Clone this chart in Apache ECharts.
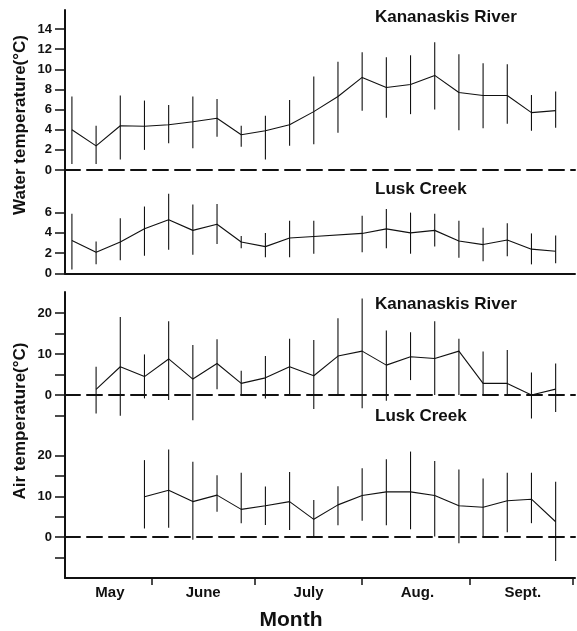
<!DOCTYPE html>
<html>
<head>
<meta charset="utf-8">
<script src="https://cdn.jsdelivr.net/npm/echarts@6/dist/echarts.min.js"></script>
<style>
html,body{margin:0;padding:0;background:#fff;}
#c{width:577px;height:631px;}
</style>
</head>
<body>
<div id="c"></div>
<script>
// Sample dates (days after 1 May), weekly
const days = [8,15,22,29,36,43,50,57,64,71,78,85,92,99,106,113,120,127,134,141,148];

// Water temperature, Kananaskis River
const waterKMean = [4.0,2.4,4.4,4.35,4.5,4.8,5.15,3.5,3.9,4.5,5.8,7.3,9.2,8.2,8.5,9.4,7.7,7.4,7.4,5.7,5.9];
const waterKHigh = [7.3,4.4,7.4,6.9,6.45,7.3,7.05,4.4,5.4,6.95,9.3,10.75,11.7,11.2,11.4,12.7,11.5,10.6,10.5,7.45,7.8];
const waterKLow  = [0.6,0.6,1.05,2.0,2.65,2.15,3.3,2.3,1.05,2.4,2.55,3.7,5.9,5.2,5.55,6.0,3.95,4.15,4.6,3.9,4.2];

// Water temperature, Lusk Creek
const waterLMean = [3.25,2.1,3.1,4.4,5.3,4.25,4.85,3.1,2.65,3.5,3.65,null,3.95,4.4,4.0,4.25,3.2,2.85,3.3,2.4,2.2];
const waterLHigh = [5.9,3.15,5.45,6.6,7.85,6.8,6.85,3.7,4.0,5.2,5.2,null,5.7,6.35,6.0,5.9,5.2,4.5,4.95,3.95,3.75];
const waterLLow  = [0.4,0.9,1.3,1.75,2.35,1.85,2.9,2.5,1.6,1.6,1.95,null,2.1,2.5,1.95,2.65,1.55,1.2,1.7,0.9,1.0];

// Air temperature, Kananaskis River
const airKMean = [null,1.4,6.9,4.5,8.8,3.9,7.7,2.85,4.2,6.9,4.7,9.5,10.7,7.3,9.35,8.9,10.7,2.85,2.85,0,1.45];
const airKHigh = [null,6.9,19.0,9.9,18.0,12.2,13.6,5.9,9.5,13.7,13.4,18.7,23.5,15.7,15.3,18.0,13.7,10.6,11.0,5.5,7.7];
const airKLow  = [null,-4.5,-5.0,-0.8,-1.2,-6.1,1.45,0,-0.8,0,-3.4,0,-3.2,-1.4,3.65,0,0,0,0,-5.7,-4.1];

// Air temperature, Lusk Creek
const airLMean = [null,null,null,9.9,11.5,8.7,10.3,6.8,7.7,8.7,4.35,7.9,10.2,11.1,11.1,10.2,7.7,7.3,8.9,9.3,3.75];
const airLHigh = [null,null,null,18.9,21.5,18.5,15.2,15.8,12.4,16.0,9.1,12.5,16.9,19.1,21.0,18.7,16.6,14.4,15.8,15.8,13.6];
const airLLow  = [null,null,null,2.1,2.3,-0.7,6.2,3.4,2.95,1.7,0.1,2.9,4.0,2.9,1.9,0.1,-1.5,0.1,1.15,3.4,-5.9];

// Axis ticks / labels
const monthBoundaries = [31,61,92,123,153];
const monthNames = ['May','June','July','Aug.','Sept.'];
const monthLabelPos = [19,46,76.5,108,138.5];
const waterKTicks = [0,2,4,6,8,10,12,14];
const waterLTicks = [0,2,4,6];
const airTicks = [-5,0,5,10,15,20];
const airLabels = [0,10,20];

const FONT = '"Liberation Sans", Arial, Helvetica, sans-serif';
const INK = '#111';

function pairs(ys){ return days.map((d,i)=>[d, ys[i]]); }
function bars(lo, hi){
  const out = [];
  days.forEach((d,i)=>{ if (lo[i]!=null && hi[i]!=null) out.push([d, lo[i], hi[i]]); });
  return out;
}
function errRender(params, api){
  const x = api.value(0);
  const p1 = api.coord([x, api.value(1)]);
  const p2 = api.coord([x, api.value(2)]);
  return {type:'line', shape:{x1:p1[0], y1:p1[1], x2:p2[0], y2:p2[1]},
          style:{stroke:INK, lineWidth:1.1}};
}

const X_MIN = 6, X_MAX = 153.6;
function xBase(grid, extra){
  return Object.assign({
    type:'value', gridIndex:grid, min:X_MIN, max:X_MAX,
    axisTick:{show:false}, axisLabel:{show:false}, splitLine:{show:false}
  }, extra);
}
const dashed = {show:true, onZero:true, lineStyle:{color:INK, width:2, type:[15,7]}};
const solid = {show:true, onZero:false, lineStyle:{color:INK, width:2}};

function yBase(grid, min, max, ticks, labels){
  return {
    type:'value', gridIndex:grid, min:min, max:max,
    axisLine:{show:true, onZero:false, lineStyle:{color:INK, width:2}},
    axisTick:{show:true, length:10, customValues:ticks, lineStyle:{color:INK, width:1.5}},
    axisLabel:{show:true, customValues:labels, margin:13, color:INK,
               fontFamily:FONT, fontWeight:'bold', fontSize:13},
    splitLine:{show:false}
  };
}

const option = {
  backgroundColor:'#fff',
  animation:false,
  grid:[
    {left:65, right:2, top:10, height:160},
    {left:65, right:2, top:170, height:103.5},
    {left:65, right:2, top:292, height:138},
    {left:65, right:2, top:430, height:148}
  ],
  xAxis:[
    xBase(0, {axisLine:dashed}),
    xBase(1, {axisLine:solid}),
    xBase(2, {axisLine:dashed}),
    xBase(3, {axisLine:solid, position:'bottom',
      axisTick:{show:true, length:7, customValues:monthBoundaries, lineStyle:{color:INK, width:1.5}},
      axisLabel:{show:true, customValues:monthLabelPos, margin:7, color:INK,
        fontFamily:FONT, fontWeight:'bold', fontSize:15,
        formatter:function(v){ const i = monthLabelPos.indexOf(v); return i>=0 ? monthNames[i] : ''; }}
    }),
    xBase(3, {axisLine:dashed, position:'top'})
  ],
  yAxis:[
    yBase(0, 0, 15.9, waterKTicks, waterKTicks),
    yBase(1, 0, 10.2, waterLTicks, waterLTicks),
    yBase(2, -8.5, 25.1, airTicks, airLabels),
    yBase(3, -10.07, 26.3, airTicks, airLabels)
  ],
  title:[
    {text:'Kananaskis River', left:375, top:9, padding:0, textStyle:{fontFamily:FONT, fontWeight:'bold', fontSize:17, color:INK}},
    {text:'Lusk Creek', left:375, top:181, padding:0, textStyle:{fontFamily:FONT, fontWeight:'bold', fontSize:17, color:INK}},
    {text:'Kananaskis River', left:375, top:296, padding:0, textStyle:{fontFamily:FONT, fontWeight:'bold', fontSize:17, color:INK}},
    {text:'Lusk Creek', left:375, top:408, padding:0, textStyle:{fontFamily:FONT, fontWeight:'bold', fontSize:17, color:INK}}
  ],
  graphic:[
    {type:'text', x:20, y:125, rotation:Math.PI/2,
     style:{text:'Water temperature(°C)', font:'bold 17px '+FONT, fill:INK, align:'center', verticalAlign:'middle'}},
    {type:'text', x:20, y:421, rotation:Math.PI/2,
     style:{text:'Air temperature(°C)', font:'bold 17px '+FONT, fill:INK, align:'center', verticalAlign:'middle'}},
    {type:'text', x:291, y:620,
     style:{text:'Month', font:'bold 21px '+FONT, fill:INK, align:'center', verticalAlign:'middle'}}
  ],
  series:[
    {type:'line', xAxisIndex:0, yAxisIndex:0, data:pairs(waterKMean), showSymbol:false, connectNulls:true, lineStyle:{color:INK, width:1.1}},
    {type:'custom', xAxisIndex:0, yAxisIndex:0, data:bars(waterKLow, waterKHigh), renderItem:errRender},
    {type:'line', xAxisIndex:1, yAxisIndex:1, data:pairs(waterLMean), showSymbol:false, connectNulls:true, lineStyle:{color:INK, width:1.1}},
    {type:'custom', xAxisIndex:1, yAxisIndex:1, data:bars(waterLLow, waterLHigh), renderItem:errRender},
    {type:'line', xAxisIndex:2, yAxisIndex:2, data:pairs(airKMean), showSymbol:false, connectNulls:false, lineStyle:{color:INK, width:1.1}},
    {type:'custom', xAxisIndex:2, yAxisIndex:2, data:bars(airKLow, airKHigh), renderItem:errRender},
    {type:'line', xAxisIndex:3, yAxisIndex:3, data:pairs(airLMean), showSymbol:false, connectNulls:false, lineStyle:{color:INK, width:1.1}},
    {type:'custom', xAxisIndex:3, yAxisIndex:3, data:bars(airLLow, airLHigh), renderItem:errRender}
  ]
};

const chart = echarts.init(document.getElementById('c'), null, {renderer:'canvas'});
chart.setOption(option);
</script>
</body>
</html>
